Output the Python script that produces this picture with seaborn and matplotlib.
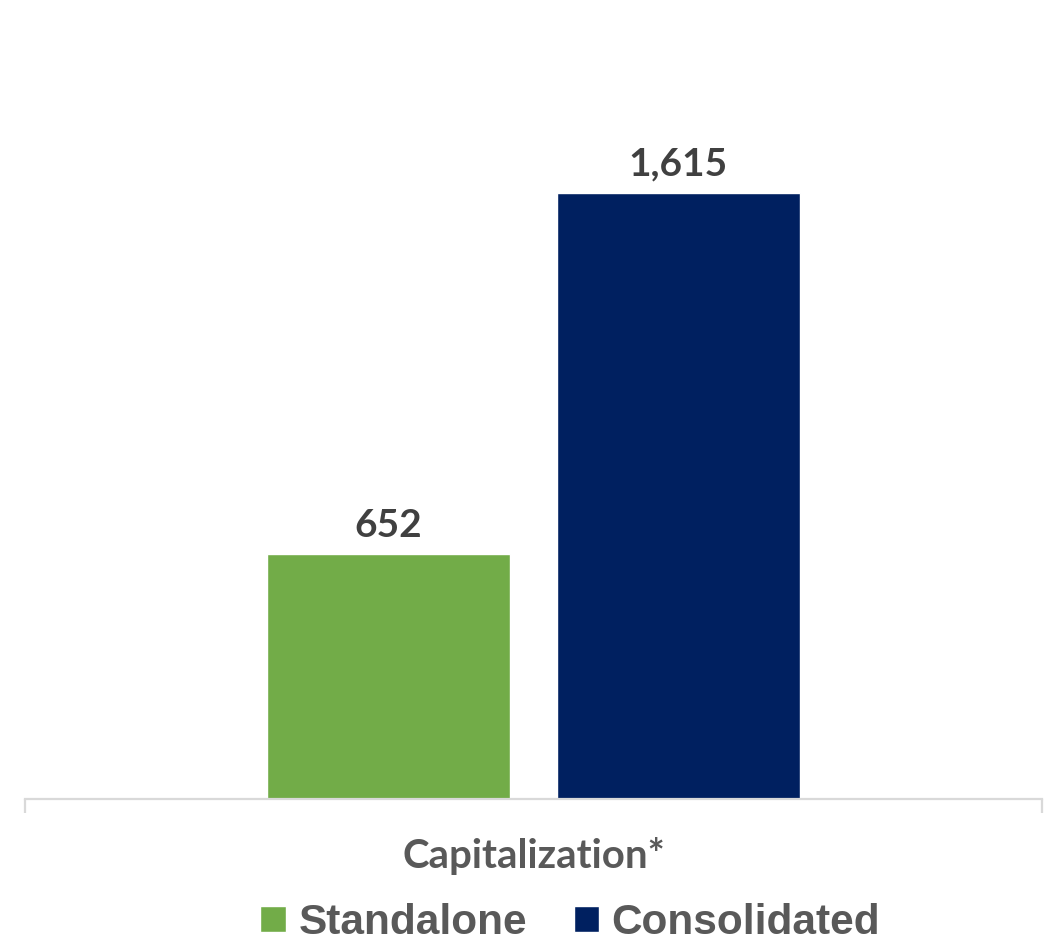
import pandas as pd
import matplotlib.pyplot as plt
import seaborn as sns
from matplotlib.patches import Patch

# data
categories = ["Capitalization*"]
series = ["Standalone", "Consolidated"]
values = [652, 1615]
colors = ["#72AC48", "#002060"]

df = pd.DataFrame({"category": categories * len(series),
                   "series": series,
                   "value": values})

sns.set_theme(style="white")
plt.rcParams['font.family'] = ['Lato', 'DejaVu Sans']

fig = plt.figure(figsize=(10.56, 9.47), dpi=100)
ax = fig.add_axes([25 / 1056, 148 / 947, 1017 / 1056, 799 / 947])

sns.barplot(data=df, x="category", y="value", hue="series",
            palette=colors, saturation=1, width=0.57, gap=0.16, legend=False, ax=ax)

ax.set_xlim(-0.5, 0.5)
ax.set_ylim(0, 2128)

for c in ax.containers:
    ax.bar_label(c, labels=[f"{v:,.0f}" for v in c.datavalues], padding=8,
                 fontsize=28, fontweight="bold", color="#404040")

for s in ["top", "left", "right"]:
    ax.spines[s].set_visible(False)
ax.spines["bottom"].set_color("#D9D9D9")
ax.spines["bottom"].set_linewidth(1.6)
ax.set_yticks([])
ax.set_xlabel("")
ax.set_ylabel("")
ax.tick_params(axis="x", which="major", length=0, pad=27, labelsize=29, labelcolor="#595959")
for t in ax.get_xticklabels():
    t.set_fontweight("bold")
ax.set_xticks([-0.5, 0.5], minor=True)
ax.tick_params(axis="x", which="minor", length=10, width=1.6, color="#D9D9D9", bottom=True)

handles = [Patch(facecolor=col, label=s) for s, col in zip(series, colors)]
fig.legend(handles=handles, loc="lower center", bbox_to_anchor=(0.54, -0.036), ncol=2,
           frameon=False, handlelength=0.6, handleheight=0.6, handletextpad=0.3,
           columnspacing=1.1, prop={"family": "Liberation Sans", "weight": "bold", "size": 30.5},
           labelcolor="#595959")

fig.savefig("out.png", dpi=100)
